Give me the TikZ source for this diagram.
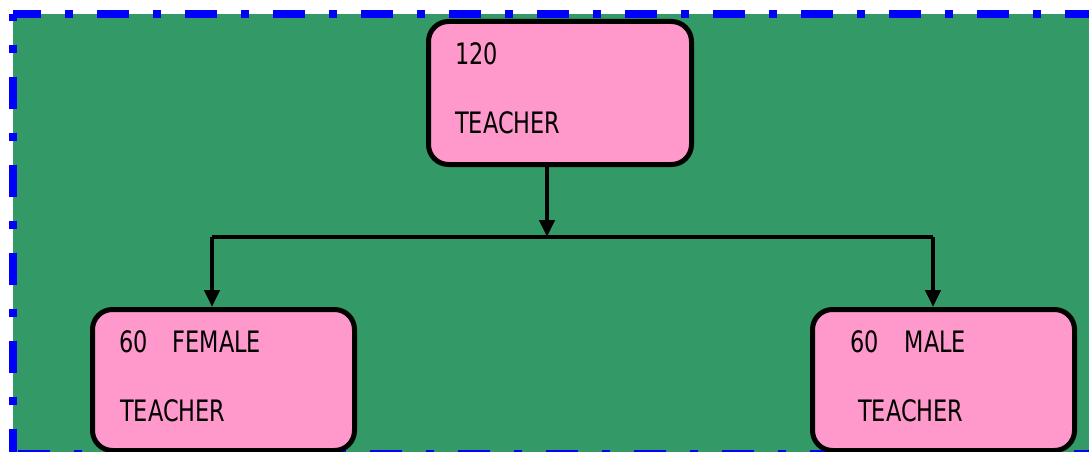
\documentclass[tikz,border=0pt]{standalone}
\usepackage{fontspec}
\newfontfamily\lbl[FakeStretch=0.76]{DejaVu Sans}
\usetikzlibrary{arrows.meta}
\definecolor{bggreen}{RGB}{51,153,102}
\definecolor{boxpink}{RGB}{255,153,204}
\definecolor{frameblue}{RGB}{0,0,255}
\tikzset{
  box/.style={draw=black, fill=boxpink, line width=5pt, rounded corners=20pt, inner sep=0pt},
  txt/.style={anchor=base west, inner sep=0pt, font=\lbl\fontsize{29.5}{30}\selectfont},
  conn/.style={draw=black, line width=4pt},
  tip/.style={-{Triangle[width=15pt,length=17pt]}},
  frame/.style={frameblue, line width=8pt, dash pattern=on 32pt off 24pt on 8pt off 24pt},
}
\begin{document}
\begin{tikzpicture}[x=1pt,y=-1pt]
\useasboundingbox (0,0) rectangle (1089,452);
\fill[bggreen] (13,14) rectangle (1100,456);
\coordinate (ftl) at (13,14);
\coordinate (ftr) at (1100,14);
\coordinate (fbl) at (13,454);
\coordinate (fbr) at (1100,454);
\draw[frame, dash phase=4pt] (ftl) -- (ftr);
\draw[frame, dash phase=25pt] (ftl) -- (fbl);
\draw[frame, dash phase=83pt] (fbl) -- (fbr);
\node[box, minimum width=263pt, minimum height=143pt] (top) at (560,93) {};
\node[box, minimum width=262pt, minimum height=141pt] (left) at (223.5,380) {};
\node[box, minimum width=262pt, minimum height=141pt] (right) at (943.5,380) {};
\node[txt] (t1) at (455,64) {120};
\node[txt] (t2) at (455,133) {TEACHER};
\node[txt] (l1) at (119,352) {60\hspace{25pt}FEMALE};
\node[txt] (l2) at (120,421) {TEACHER};
\node[txt] (r1) at (850,352) {60\hspace{26pt}MALE};
\node[txt] (r2) at (858,421) {TEACHER};
\coordinate (j) at (547,237);
\coordinate (hl) at (212,237);
\coordinate (hr) at (933,237);
\draw[conn, tip] (top.south -| j) -- (j);
\draw[conn] (hl) -- (hr);
\draw[conn, tip] (hl) -- (left.north -| hl);
\draw[conn, tip] (hr) -- (right.north -| hr);
\end{tikzpicture}
\end{document}
